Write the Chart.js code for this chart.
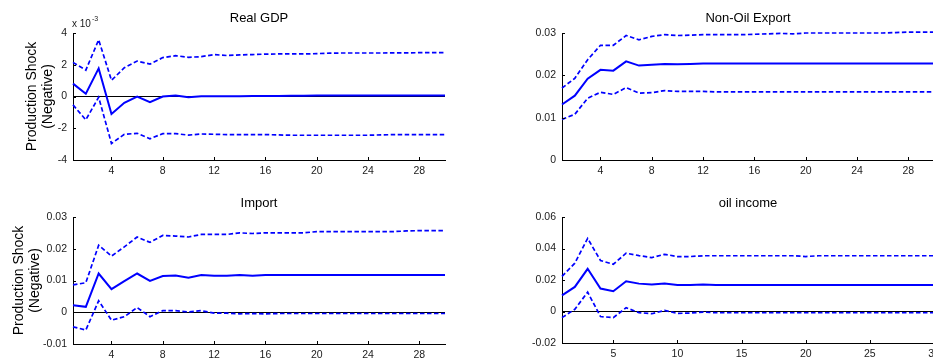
<!DOCTYPE html>
<html lang="en">
<head>
<meta charset="UTF-8">
<title>Production Shock (Negative) - impulse responses</title>
<script src="https://cdn.jsdelivr.net/npm/chart.js"></script>
<style>
    html, body { margin: 0; padding: 0; background: #fff; overflow: hidden; }
    body { width: 933px; height: 362px; position: relative; }
    canvas { position: absolute; }
</style>
</head>
<body>
<canvas id="gdpChart" width="460" height="180" style="left:0;top:0"></canvas>
<canvas id="exportChart" width="464" height="180" style="left:470px;top:0"></canvas>
<canvas id="importChart" width="460" height="180" style="left:0;top:185px"></canvas>
<canvas id="oilChart" width="464" height="180" style="left:470px;top:185px"></canvas>

<script>
// horizon (periods after the shock)
const periods = [1, 2, 3, 4, 5, 6, 7, 8, 9, 10, 11, 12, 13, 14, 15, 16, 17, 18, 19, 20, 21, 22, 23, 24, 25, 26, 27, 28, 29, 30];

// Real GDP, in units of 10^-3
const gdpMean  = [0.81, 0.17, 1.77, -1.10, -0.40, 0.00, -0.36, 0.00, 0.06, -0.04, 0.01, 0.02, 0.02, 0.02, 0.03, 0.03, 0.03, 0.04, 0.05, 0.06, 0.06, 0.06, 0.06, 0.06, 0.06, 0.06, 0.06, 0.06, 0.06, 0.06];
const gdpUpper = [2.15, 1.66, 3.57, 1.02, 1.81, 2.23, 2.04, 2.45, 2.57, 2.47, 2.51, 2.64, 2.58, 2.62, 2.64, 2.67, 2.68, 2.68, 2.68, 2.70, 2.73, 2.74, 2.74, 2.74, 2.74, 2.75, 2.75, 2.76, 2.76, 2.76];
const gdpLower = [-0.53, -1.47, -0.05, -2.96, -2.38, -2.32, -2.66, -2.34, -2.34, -2.43, -2.36, -2.38, -2.40, -2.40, -2.40, -2.40, -2.42, -2.44, -2.44, -2.44, -2.44, -2.44, -2.44, -2.44, -2.42, -2.40, -2.40, -2.40, -2.40, -2.40];

// Non-Oil Export
const exportMean  = [0.0131, 0.0152, 0.0192, 0.0213, 0.0211, 0.0233, 0.0223, 0.0225, 0.0227, 0.0226, 0.0227, 0.0228, 0.0228, 0.0228, 0.0228, 0.0228, 0.0228, 0.0228, 0.0228, 0.0228, 0.0228, 0.0228, 0.0228, 0.0228, 0.0228, 0.0228, 0.0228, 0.0228, 0.0228, 0.0228];
const exportUpper = [0.0170, 0.0193, 0.0237, 0.0271, 0.0271, 0.0294, 0.0284, 0.0292, 0.0296, 0.0294, 0.0295, 0.0296, 0.0296, 0.0296, 0.0296, 0.0297, 0.0298, 0.0299, 0.0298, 0.0300, 0.0300, 0.0300, 0.0300, 0.0300, 0.0300, 0.0300, 0.0301, 0.0302, 0.0302, 0.0302];
const exportLower = [0.0096, 0.0108, 0.0146, 0.0160, 0.0155, 0.0171, 0.0158, 0.0159, 0.0164, 0.0162, 0.0162, 0.0162, 0.0161, 0.0161, 0.0161, 0.0161, 0.0161, 0.0161, 0.0161, 0.0161, 0.0161, 0.0161, 0.0161, 0.0161, 0.0161, 0.0161, 0.0161, 0.0161, 0.0161, 0.0161];

// Import
const importMean  = [0.0022, 0.0017, 0.0122, 0.0073, 0.0098, 0.0122, 0.0099, 0.0114, 0.0116, 0.0109, 0.0117, 0.0115, 0.0115, 0.0117, 0.0115, 0.0117, 0.0117, 0.0117, 0.0117, 0.0117, 0.0117, 0.0117, 0.0117, 0.0117, 0.0117, 0.0117, 0.0117, 0.0117, 0.0117, 0.0117];
const importUpper = [0.0086, 0.0093, 0.0211, 0.0177, 0.0206, 0.0237, 0.0220, 0.0242, 0.0240, 0.0237, 0.0245, 0.0245, 0.0245, 0.0250, 0.0248, 0.0250, 0.0250, 0.0250, 0.0250, 0.0254, 0.0254, 0.0254, 0.0254, 0.0254, 0.0254, 0.0254, 0.0256, 0.0257, 0.0257, 0.0257];
const importLower = [-0.0046, -0.0056, 0.0036, -0.0025, -0.0014, 0.0015, -0.0014, 0.0005, 0.0005, 0.0001, 0.0005, -0.0003, -0.0003, -0.0005, -0.0004, -0.0005, -0.0004, -0.0004, -0.0004, -0.0004, -0.0004, -0.0004, -0.0004, -0.0004, -0.0004, -0.0004, -0.0004, -0.0004, -0.0004, -0.0004];

// oil income
const oilMean  = [0.0102, 0.0156, 0.0271, 0.0146, 0.0129, 0.0192, 0.0177, 0.0171, 0.0177, 0.0168, 0.0168, 0.0172, 0.0168, 0.0168, 0.0168, 0.0168, 0.0168, 0.0168, 0.0168, 0.0168, 0.0168, 0.0168, 0.0168, 0.0168, 0.0168, 0.0168, 0.0168, 0.0168, 0.0168, 0.0168];
const oilUpper = [0.0223, 0.0307, 0.0464, 0.0324, 0.0300, 0.0370, 0.0355, 0.0342, 0.0363, 0.0349, 0.0349, 0.0354, 0.0354, 0.0354, 0.0354, 0.0354, 0.0354, 0.0354, 0.0354, 0.0349, 0.0354, 0.0354, 0.0354, 0.0354, 0.0354, 0.0354, 0.0354, 0.0354, 0.0354, 0.0354];
const oilLower = [-0.0039, 0.0014, 0.0123, -0.0032, -0.0039, 0.0024, -0.0007, -0.0014, 0.0007, -0.0012, -0.0010, -0.0004, -0.0008, -0.0008, -0.0008, -0.0008, -0.0008, -0.0008, -0.0008, -0.0008, -0.0008, -0.0008, -0.0008, -0.0008, -0.0008, -0.0008, -0.0008, -0.0008, -0.0008, -0.0008];

// tick labels
const xTicksBy4 = [4, 8, 12, 16, 20, 24, 28];
const xTicksBy5 = [5, 10, 15, 20, 25, 30];
const gdpYTicks = [-4, -2, 0, 2, 4];
const exportYTicks = [0, 0.01, 0.02, 0.03];
const importYTicks = [-0.01, 0, 0.01, 0.02, 0.03];
const oilYTicks = [-0.02, 0, 0.02, 0.04, 0.06];

const yLabel = ['Production Shock', '(Negative)'];
const lineBlue = '#0000ff';

Chart.defaults.font.family = '"Liberation Sans", Arial, sans-serif';
Chart.defaults.color = '#1a1a1a';

// small tick marks pointing into the plot, like the original figure
const innerTicks = {
    id: 'innerTicks',
    afterDraw(chart) {
        const { ctx, chartArea, scales: { x, y } } = chart;
        ctx.save();
        ctx.strokeStyle = '#000';
        ctx.lineWidth = 1;
        ctx.beginPath();
        x.ticks.forEach(t => {
            const px = Math.round(x.getPixelForValue(t.value)) + 0.5;
            ctx.moveTo(px, chartArea.bottom);
            ctx.lineTo(px, chartArea.bottom - 3);
        });
        y.ticks.forEach(t => {
            const py = Math.round(y.getPixelForValue(t.value)) + 0.5;
            ctx.moveTo(chartArea.left, py);
            ctx.lineTo(chartArea.left + 3, py);
        });
        ctx.stroke();
        ctx.restore();
    }
};

// "x 10^-3" scale factor above the y axis
const exponentLabel = {
    id: 'exponentLabel',
    afterDraw(chart) {
        const { ctx, chartArea } = chart;
        ctx.save();
        ctx.fillStyle = '#1a1a1a';
        ctx.textBaseline = 'alphabetic';
        ctx.font = '10px "Liberation Sans", Arial, sans-serif';
        ctx.fillText('x 10', chartArea.left - 1, chartArea.top - 6);
        ctx.font = '7px "Liberation Sans", Arial, sans-serif';
        ctx.fillText('-3', chartArea.left + 19, chartArea.top - 12);
        ctx.restore();
    }
};

function series(values, dashed) {
    return {
        data: periods.map((p, i) => ({ x: p, y: values[i] })),
        borderColor: lineBlue,
        borderWidth: dashed ? 1.7 : 2,
        borderDash: dashed ? [4.5, 2.5] : [],
        pointRadius: 0,
        tension: 0,
        fill: false,
        clip: false
    };
}

function makePanel(id, cfg) {
    const ctx = document.getElementById(id).getContext('2d');
    return new Chart(ctx, {
        type: 'line',
        data: {
            datasets: [
                series(cfg.mean, false),
                series(cfg.upper, true),
                series(cfg.lower, true)
            ]
        },
        options: {
            responsive: false,
            animation: false,
            events: [],
            layout: { padding: { left: 0, top: 0, bottom: 0, right: cfg.padRight } },
            plugins: {
                legend: { display: false },
                tooltip: { enabled: false },
                title: {
                    display: true,
                    text: cfg.title,
                    fullSize: false,
                    color: '#000',
                    font: { size: 13, weight: 'normal' },
                    padding: { top: 11, bottom: cfg.titleGap }
                }
            },
            scales: {
                x: {
                    type: 'linear',
                    min: 1,
                    max: 30,
                    grid: { display: false, drawTicks: false },
                    border: { display: true, color: '#000', width: 1 },
                    ticks: { padding: 5, font: { size: 10.5 }, callback: v => String(v) },
                    afterBuildTicks: s => { s.ticks = cfg.xTicks.map(v => ({ value: v })); },
                    afterFit: s => { s.height = cfg.xHeight; s.paddingLeft = 0; s.paddingRight = 0; }
                },
                y: {
                    min: cfg.yTicks[0],
                    max: cfg.yTicks[cfg.yTicks.length - 1],
                    grid: {
                        drawTicks: false,
                        color: c => (c.tick && c.tick.value === 0 ? '#000' : 'rgba(0,0,0,0)'),
                        lineWidth: 1
                    },
                    border: { display: true, color: '#000', width: 1 },
                    ticks: { padding: 6, font: { size: 10.5 }, callback: v => String(v) },
                    title: {
                        display: cfg.labelPad !== null,
                        text: yLabel,
                        color: '#000',
                        font: { size: 14, lineHeight: 1.18 },
                        padding: { top: cfg.labelPad || 0, bottom: 0 }
                    },
                    afterBuildTicks: s => { s.ticks = cfg.yTicks.map(v => ({ value: v })); },
                    afterFit: s => { s.width = cfg.yWidth; s.paddingTop = 0; s.paddingBottom = 0; }
                }
            }
        },
        plugins: cfg.exponent ? [innerTicks, exponentLabel] : [innerTicks]
    });
}

makePanel('gdpChart', {
    title: 'Real GDP', mean: gdpMean, upper: gdpUpper, lower: gdpLower,
    xTicks: xTicksBy4, yTicks: gdpYTicks, labelPad: 23.7, exponent: true,
    yWidth: 73, xHeight: 20, padRight: 15, titleGap: 6.4
});
makePanel('exportChart', {
    title: 'Non-Oil Export', mean: exportMean, upper: exportUpper, lower: exportLower,
    xTicks: xTicksBy4, yTicks: exportYTicks, labelPad: null, exponent: false,
    yWidth: 92, xHeight: 20, padRight: 0, titleGap: 6.4
});
makePanel('importChart', {
    title: 'Import', mean: importMean, upper: importUpper, lower: importLower,
    xTicks: xTicksBy4, yTicks: importYTicks, labelPad: 10.7, exponent: false,
    yWidth: 73, xHeight: 21, padRight: 15, titleGap: 5.4
});
makePanel('oilChart', {
    title: 'oil income', mean: oilMean, upper: oilUpper, lower: oilLower,
    xTicks: xTicksBy5, yTicks: oilYTicks, labelPad: null, exponent: false,
    yWidth: 92, xHeight: 22, padRight: 0, titleGap: 5.4
});
</script>
</body>
</html>
